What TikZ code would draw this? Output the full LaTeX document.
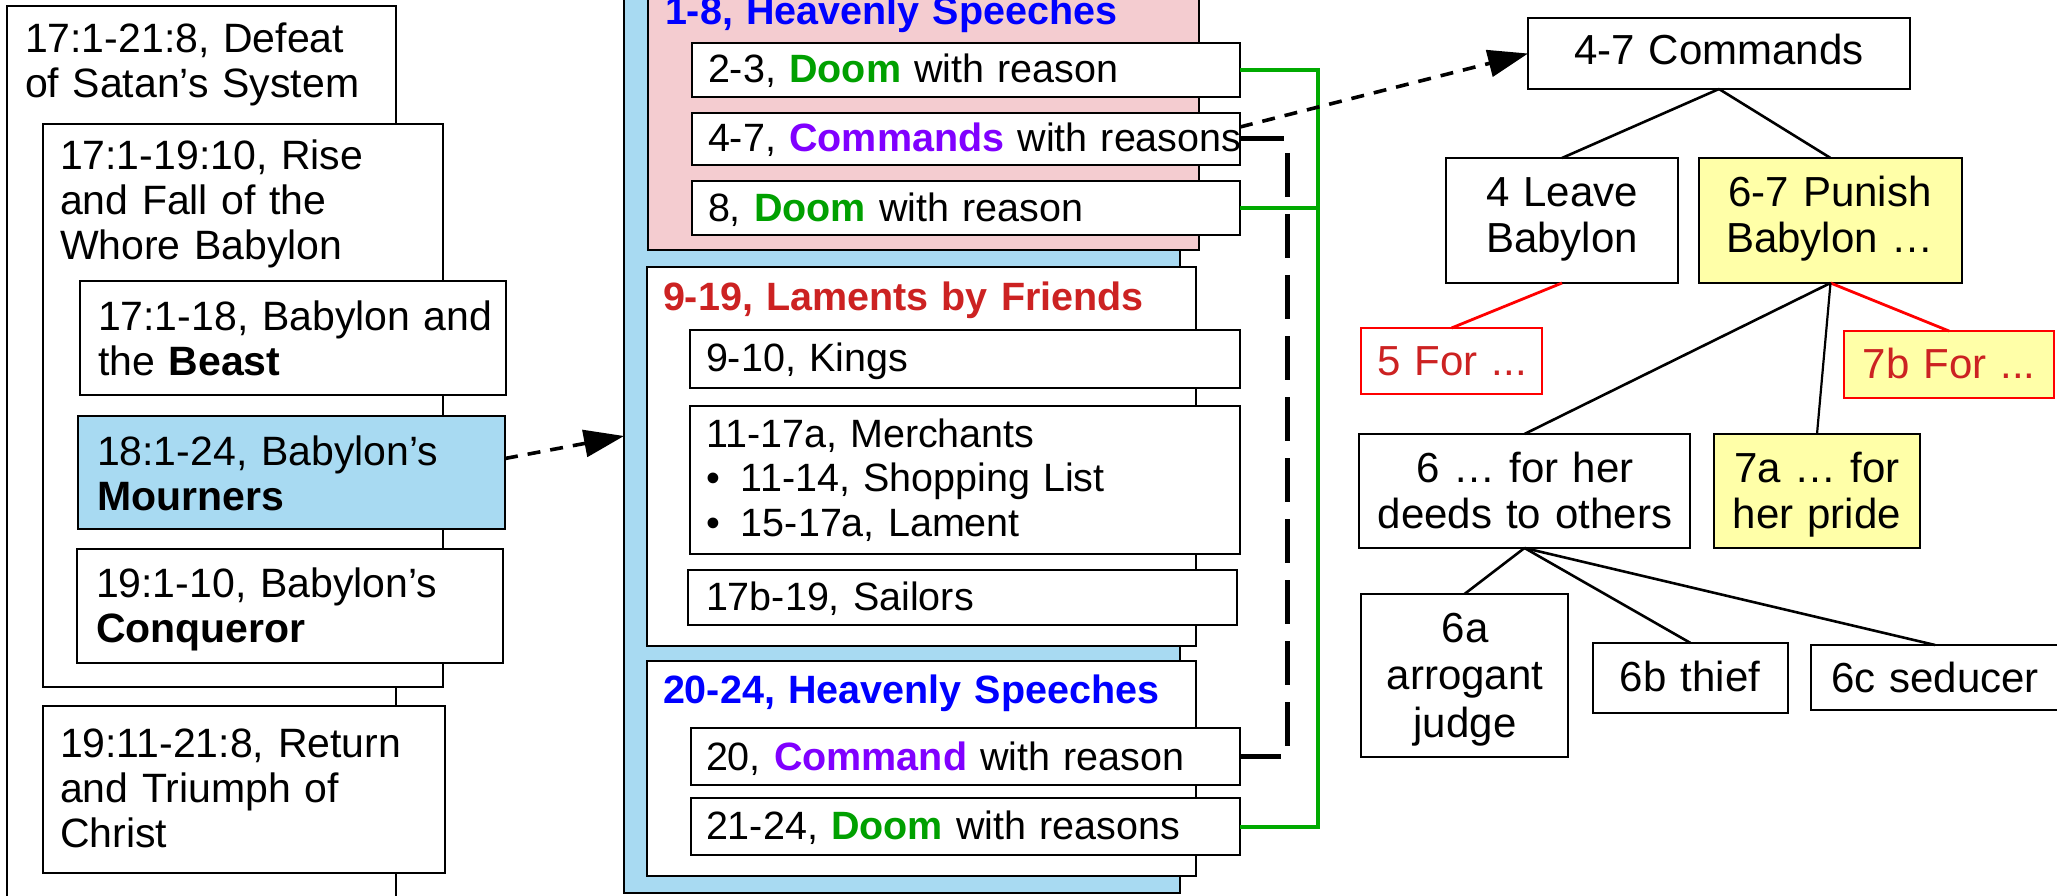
\documentclass[tikz,border=0pt]{standalone}
\usepackage{fontspec}
\setmainfont{Liberation Sans}
\usetikzlibrary{arrows.meta,calc}
\definecolor{bluefill}{RGB}{168,218,242}
\definecolor{pinkfill}{RGB}{244,204,208}
\definecolor{yel}{RGB}{255,255,168}
\definecolor{tblue}{RGB}{0,0,255}
\definecolor{tred}{RGB}{204,34,34}
\definecolor{tpurple}{RGB}{128,0,255}
\definecolor{tgreen}{RGB}{0,160,0}
\definecolor{lgreen}{RGB}{0,170,0}
\newcommand\fsLeft{\fontsize{41}{45}\selectfont}
\newcommand\fsMid{\fontsize{39.5}{44.5}\selectfont}
\newcommand\fsRight{\fontsize{42}{46}\selectfont}
\newcommand\bul{\makebox[35pt][l]{•}}
\newcommand\doomw{\textcolor{tgreen}{\textbf{Doom}}}
\newcommand\mkbox[6]{\node[box,minimum width={#4-#2},minimum height={#5-#3},#6] (#1) at ({(#2+#4)/2},{(#3+#5)/2}) {};}
\tikzset{
  box/.style={draw=black, line width=2.8pt, fill=white, inner sep=0pt, outer sep=0pt, rectangle},
  ltxt/.style={inner sep=0pt, outer sep=0pt, anchor=base west, text width=600pt, align=left},
  ctxt/.style={inner sep=0pt, outer sep=0pt, anchor=base, text width=400pt, align=center},
  tline/.style={line width=2.6pt, draw=black},
  rline/.style={line width=2.8pt, draw=red},
  gline/.style={line width=4pt, draw=lgreen, line join=miter},
  kdash/.style={line width=5pt, draw=black, dash pattern=on 44pt off 17pt},
  darrow/.style={line width=3.6pt, draw=black, dash pattern=on 13pt off 10pt, -{Triangle[length=40pt,width=27pt]}}
}
\begin{document}
\begin{tikzpicture}[x=1pt,y=-1pt]
\useasboundingbox (0,0) rectangle (2057,896);
\clip (0,0) rectangle (2057,896);
\fill[white] (0,0) rectangle (2057,896);
% ---------- left column ----------
\mkbox{L0}{7}{6}{396}{950}{}
\mkbox{L1}{43}{124}{443}{687}{}
\mkbox{L2}{80}{281}{506}{395}{}
\mkbox{L3}{78}{416}{505}{529}{fill=bluefill}
\mkbox{L4}{77}{549}{503}{663}{}
\mkbox{L5}{43}{706}{445}{873}{}
\begin{scope}[every node/.append style={font=\fsLeft}]
\node[ltxt] (tL0) at (25,53) {17:1-21:8, Defeat\\of Satan’s System};
\node[ltxt] (tL1) at (60,170) {17:1-19:10, Rise\\and Fall of the\\Whore Babylon};
\node[ltxt] (tL2) at (98,330) {17:1-18, Babylon and\\the \textbf{Beast}};
\node[ltxt] (tL3) at (97,465) {18:1-24, Babylon’s\\\textbf{Mourners}};
\node[ltxt] (tL4) at (96,597) {19:1-10, Babylon’s\\\textbf{Conqueror}};
\node[ltxt] (tL5) at (60,757) {19:11-21:8, Return\\and Triumph of\\Christ};
\end{scope}
% ---------- middle column ----------
\mkbox{M0}{624}{-21}{1180}{893}{fill=bluefill}
\mkbox{P1}{648}{-30}{1199}{250}{fill=pinkfill}
\mkbox{m23}{692}{43}{1240}{97}{}
\mkbox{m47}{692}{113}{1240}{165}{}
\mkbox{m8}{692}{181}{1240}{235}{}
\mkbox{P2}{647}{267}{1196}{646}{}
\mkbox{m910}{690}{330}{1240}{388}{}
\mkbox{m1117}{690}{406}{1240}{554}{}
\mkbox{m17b}{688}{570}{1237}{625}{}
\mkbox{P3}{647}{661}{1196}{876}{}
\mkbox{m20}{691}{728}{1240}{785}{}
\mkbox{m2124}{691}{798}{1240}{855}{}
\begin{scope}[every node/.append style={font=\fsMid}]
\node[ltxt] (tP1) at (665,25) {\textcolor{tblue}{\textbf{1-8, Heavenly Speeches}}};
\node[ltxt] (tm23) at (708,83) {2-3, \doomw{} with reason};
\node[ltxt] (tm47) at (708,152) {4-7, \textcolor{tpurple}{\textbf{Commands}} with reasons};
\node[ltxt] (tm8) at (708,222) {8, \doomw{} with reason};
\node[ltxt] (tP2) at (663,310) {\textcolor{tred}{\textbf{9-19, Laments by Friends}}};
\node[ltxt] (tm910) at (706,371) {9-10, Kings};
\node[ltxt] (tm1117) at (706,447) {11-17a, Merchants\\\bul 11-14, Shopping List\\\bul 15-17a, Lament};
\node[ltxt] (tm17b) at (706,610) {17b-19, Sailors};
\node[ltxt] (tP3) at (663,703) {\textcolor{tblue}{\textbf{20-24, Heavenly Speeches}}};
\node[ltxt] (tm20) at (706,770) {20, \textcolor{tpurple}{\textbf{Command}} with reason};
\node[ltxt] (tm2124) at (706,839) {21-24, \doomw{} with reasons};
\end{scope}
% ---------- right tree ----------
\mkbox{R0}{1528}{18}{1910}{89}{}
\mkbox{R1}{1446}{158}{1678}{283}{}
\mkbox{R2}{1699}{158}{1962}{283}{fill=yel}
\mkbox{R3}{1361}{328}{1542}{394}{draw=red}
\mkbox{R4}{1844}{331}{2054}{398}{draw=red,fill=yel}
\mkbox{R5}{1359}{434}{1690}{548}{}
\mkbox{R6}{1714}{434}{1920}{548}{fill=yel}
\mkbox{R7}{1361}{594}{1568}{757}{}
\mkbox{R8}{1593}{643}{1788}{713}{}
\mkbox{R9}{1811}{645}{2059}{710}{}
\begin{scope}[every node/.append style={font=\fsRight}]
\node[ctxt] (tR0) at (1719,65) {4-7 Commands};
\node[ctxt] (tR1) at (1562,207) {4 Leave\\Babylon};
\node[ctxt] (tR2) at (1830,207) {6-7 Punish\\Babylon …};
\node[ctxt] (tR3) at (1452,375) {\textcolor{tred}{5 For ...}};
\node[ctxt] (tR4) at (1949,378) {\textcolor{tred}{7b For ...}};
\node[ctxt] (tR5) at (1525,482) {6 … for her\\deeds to others};
\node[ctxt] (tR6) at (1817,482) {7a … for\\her pride};
\node[ctxt,font=\fontsize{42}{47.5}\selectfont] (tR7) at (1465,642) {6a\\arrogant\\judge};
\node[ctxt] (tR8) at (1690,691) {6b thief};
\node[ctxt] (tR9) at (1935,692) {6c seducer};
\end{scope}
\draw[tline] (R0.south) -- (R1.north);
\draw[tline] (R0.south) -- (R2.north);
\draw[rline] (R1.south) -- (R3.north);
\draw[rline] (R2.south) -- (R4.north);
\draw[tline] (R2.south) -- (R5.north);
\draw[tline,line width=2.2pt] (R2.south) -- (R6.north);
\draw[tline] (R5.south) -- (R7.north);
\draw[tline] (R5.south) -- (R8.north);
\draw[tline] (R5.south) -- (R9.north);
% ---------- connectors ----------
\coordinate (gx) at (1318,0);
\coordinate (dx) at (1287,0);
\draw[gline] (m23.east) -- (m23.east -| gx) -- (m2124.east -| gx) -- (m2124.east);
\draw[gline] (m8.east) -- (m8.east -| gx);
\draw[kdash] (m47.east) -- (m47.east -| dx) -- (m20.east -| dx) -- (m20.east);
\draw[darrow] ([yshift=12pt]m47.east) -- (R0.west);
\draw[darrow] ([yshift=14pt]L3.east) -- (M0.west);
\end{tikzpicture}
\end{document}
